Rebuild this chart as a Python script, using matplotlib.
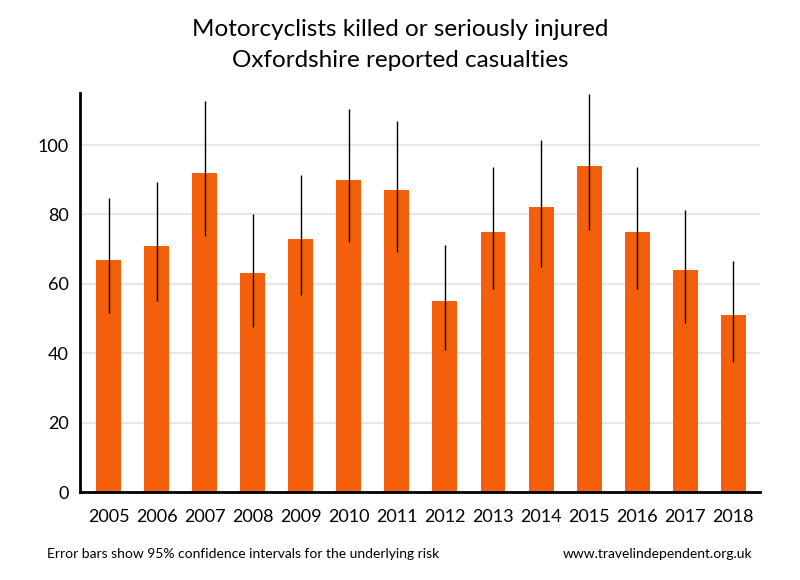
import numpy as np
import matplotlib.pyplot as plt

years = ['2005', '2006', '2007', '2008', '2009', '2010', '2011',
         '2012', '2013', '2014', '2015', '2016', '2017', '2018']
casualties = [67, 71, 92, 63, 73, 90, 87, 55, 75, 82, 94, 75, 64, 51]
ci_low = [51.7, 55.1, 73.9, 47.6, 56.8, 72.1, 69.3, 41.0, 58.6, 64.9, 75.6, 58.6, 48.7, 37.5]
ci_high = [84.7, 89.3, 112.7, 80.1, 91.4, 110.4, 106.9, 71.2, 93.7, 101.4, 114.7, 93.7, 81.3, 66.6]

plt.rcParams['font.family'] = ['Lato', 'DejaVu Sans']

fig = plt.figure(figsize=(8, 5.8), dpi=100)
ax = fig.add_axes([0.1, 0.1517, 0.85, 0.688])

x = np.arange(len(years))
vals = np.array(casualties)
err = [vals - np.array(ci_low), np.array(ci_high) - vals]
ax.bar(x, vals, width=0.52, color='#f45f0c', zorder=2)
ax.errorbar(x, vals, yerr=err, fmt='none', ecolor='black', elinewidth=1,
            capsize=0, zorder=3)

ax.set_xlim(-0.6, 13.56)
ax.set_ylim(0, 115)
ax.set_yticks([0, 20, 40, 60, 80, 100])
ax.set_xticks(x)
ax.set_xticklabels(years)
ax.tick_params(axis='both', length=0, labelsize=13, pad=8)
ax.tick_params(axis='x', pad=12)
ax.yaxis.grid(True, color='#e6e6e6', linewidth=1.5, zorder=0)
ax.set_axisbelow(True)

for s in ['top', 'right']:
    ax.spines[s].set_visible(False)
ax.spines['left'].set_linewidth(2)
ax.spines['bottom'].set_linewidth(2)

fig.text(0.5, 0.95, 'Motorcyclists killed or seriously injured', ha='center',
         va='center', fontsize=17.5)
fig.text(0.5, 0.895, 'Oxfordshire reported casualties', ha='center',
         va='center', fontsize=17.5)
fig.text(0.059, 0.045, 'Error bars show 95% confidence intervals for the underlying risk',
         ha='left', va='center', fontsize=10)
fig.text(0.94, 0.045, 'www.travelindependent.org.uk', ha='right', va='center',
         fontsize=10)

fig.savefig('out.png', dpi=100)
